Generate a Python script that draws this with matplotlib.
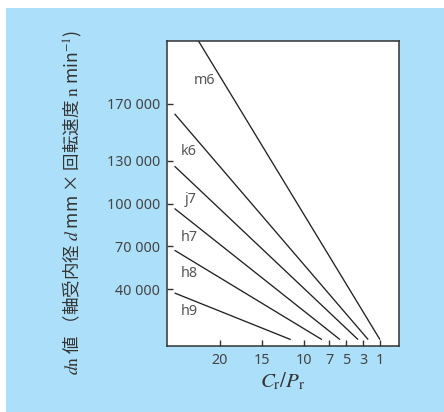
import matplotlib
matplotlib.use("Agg")
import matplotlib.pyplot as plt
from matplotlib.patches import Rectangle

plt.rcParams['font.family'] = ['Noto Sans', 'Noto Sans CJK JP', 'DejaVu Sans']
plt.rcParams['mathtext.fontset'] = 'stix'

# Fit classes and the straight lines: (C_r/P_r, dn) at each end
fits = ["m6", "k6", "j7", "h7", "h8", "h9"]
x_start = [25.4, 25.4, 25.4, 25.4, 25.4, 25.4]
dn_start = [241700, 163000, 126200, 96500, 67200, 37200]
x_end = [1.0, 2.4, 3.6, 5.75, 7.9, 11.6]
dn_end = [4500, 4500, 4500, 4500, 4500, 4500]

# Label anchor points in data units
label_x = [21.9, 23.7, 23.45, 23.7, 23.7, 23.7]
label_dn = [186700, 136800, 103000, 76300, 51000, 24300]

x_ticks = [20, 15, 10, 7, 5, 3, 1]
y_ticks = [40000, 70000, 100000, 130000, 170000]
y_tick_labels = ["40 000", "70 000", "100 000", "130 000", "170 000"]

W, H = 444, 412
fig = plt.figure(figsize=(W / 100, H / 100), dpi=100, facecolor="white")
fig.patches.append(Rectangle((6 / W, 0), 1 - 6 / W, (H - 8) / H,
                             transform=fig.transFigure, facecolor="#ACDFF9",
                             edgecolor="none", zorder=-1))

ax = fig.add_axes([166.5 / W, 1 - 346 / H, (399 - 166.5) / W, (346 - 40.7) / H])
ax.set_zorder(2)
ax.set_facecolor("white")

for xs, ys, xe, ye in zip(x_start, dn_start, x_end, dn_end):
    ax.plot([xs, xe], [ys, ye], color="#222222", lw=0.95, solid_capstyle="butt")

for name, lx, ly in zip(fits, label_x, label_dn):
    ax.text(lx, ly, name, fontsize=10.3, color="#555555", ha="center", va="center")

ax.set_xlim(26.36, -1.26)
ax.set_ylim(0, 214300)
ax.set_xticks(x_ticks)
ax.set_xticklabels([str(v) for v in x_ticks])
ax.set_yticks(y_ticks)
ax.set_yticklabels(y_tick_labels)
ax.tick_params(direction="in", length=4, width=1.0, color="#333333",
               labelsize=10.3, labelcolor="#444444")
ax.tick_params(axis="y", pad=4.5)
ax.tick_params(axis="x", pad=5)
for s in ax.spines.values():
    s.set_color("#333333")
    s.set_linewidth(1.1)

fig.text(283 / W, 1 - 381 / H, r"$C_\mathrm{r}/P_\mathrm{r}$", fontsize=15,
         color="#333333", ha="center", va="center")

ylab = (r"$d\mathrm{n}$ 値 （軸受内径 $d$ mm × 回転速度 $\mathrm{n}$ min$^{-1}$)")
fig.text(72 / W, 1 - 202.5 / H, ylab, rotation=90, fontsize=12.6,
         color="#333333", ha="center", va="center",
         family=['Noto Sans CJK JP', 'DejaVu Sans'])

fig.savefig("out.png", dpi=100, facecolor="white")
